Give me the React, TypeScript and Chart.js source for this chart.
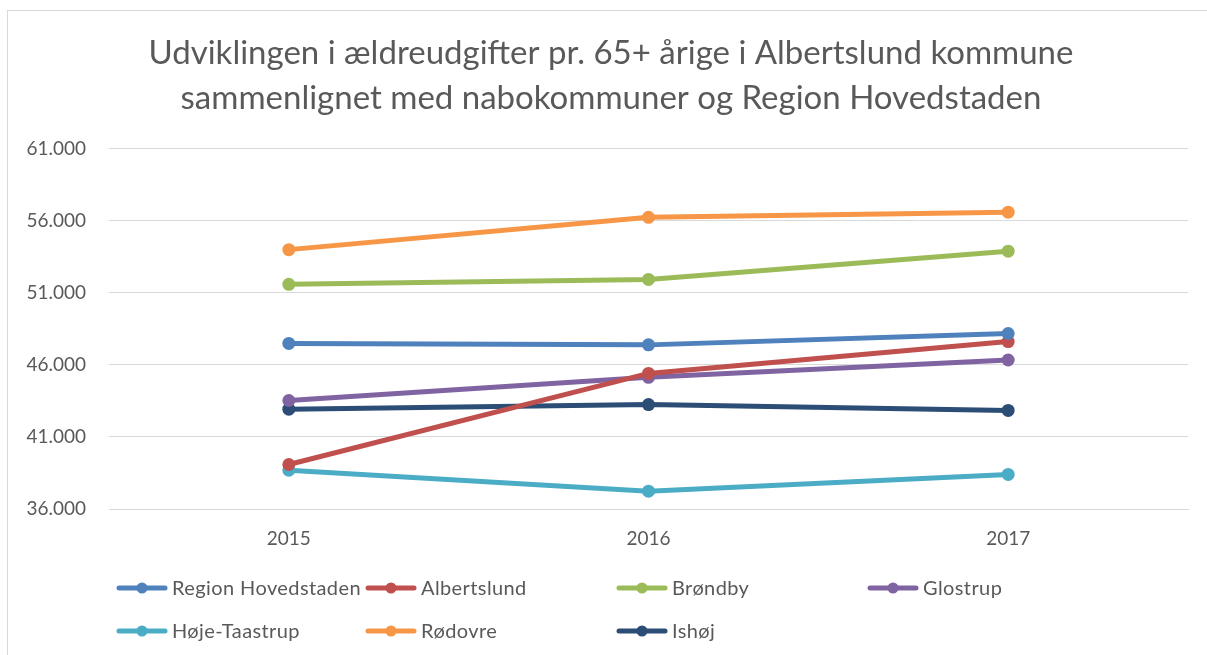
import React, { useEffect, useRef } from "react";
import { Chart, registerables } from "chart.js";

Chart.register(...registerables);

const titleLines = [
  "Udviklingen i ældreudgifter pr. 65+ årige i Albertslund kommune",
  "sammenlignet med nabokommuner og Region Hovedstaden",
];
const years = ["2015", "2016", "2017"];
const yTicks = [36000, 41000, 46000, 51000, 56000, 61000];

const seriesNames = ["Region Hovedstaden", "Albertslund", "Brøndby", "Glostrup", "Høje-Taastrup", "Rødovre", "Ishøj"];
const seriesColors = ["#4f81bd", "#c0504d", "#9bbb59", "#8064a2", "#4bacc6", "#f79646", "#2c4d75"];

const regionHovedstaden = [47490, 47390, 48180];
const albertslund = [39090, 45410, 47620];
const broendby = [51590, 51930, 53890];
const glostrup = [43530, 45140, 46340];
const hoejeTaastrup = [38690, 37240, 38400];
const roedovre = [54000, 56240, 56600];
const ishoej = [42930, 43250, 42840];

const seriesValues = [regionHovedstaden, albertslund, broendby, glostrup, hoejeTaastrup, roedovre, ishoej];

const FONT = "Lato, 'Open Sans', sans-serif";
const TEXT = "#595959";
const GRID = "#d9d9d9";

const titleShiftPlugin = {
  id: "titleShift",
  afterLayout(chart: any) {
    if (chart.titleBlock) {
      chart.titleBlock.left = 34;
    }
  },
};

const legendPlugin = {
  id: "gridLegend",
  afterDraw(chart: any) {
    const ctx = chart.ctx;
    const cols = [117, 366, 617, 868];
    const rows = [588, 631];
    ctx.save();
    chart.data.datasets.forEach((ds: any, i: number) => {
      const c = i < 4 ? i : i - 4;
      const r = i < 4 ? 0 : 1;
      const x = cols[c];
      const y = rows[r];
      ctx.strokeStyle = ds.borderColor;
      ctx.lineWidth = 5;
      ctx.lineCap = "round";
      ctx.beginPath();
      ctx.moveTo(x + 2, y);
      ctx.lineTo(x + 48, y);
      ctx.stroke();
      ctx.fillStyle = ds.borderColor;
      ctx.beginPath();
      ctx.arc(x + 25, y, 5.5, 0, Math.PI * 2);
      ctx.fill();
      ctx.fillStyle = TEXT;
      ctx.font = `20px ${FONT}`;
      (ctx as any).letterSpacing = "0.4px";
      ctx.textAlign = "left";
      ctx.textBaseline = "middle";
      ctx.fillText(ds.label, x + 55, y + 1);
    });
    ctx.restore();
  },
};

export default function App() {
  const ref = useRef<HTMLCanvasElement | null>(null);
  useEffect(() => {
    if (!ref.current) return;
    const chart = new Chart(ref.current, {
      type: "line",
      data: {
        labels: years,
        datasets: seriesNames.map((name, i) => ({
          label: name,
          data: seriesValues[i],
          borderColor: seriesColors[i],
          backgroundColor: seriesColors[i],
          borderWidth: 5,
          pointRadius: 6.5,
          pointHoverRadius: 6.5,
          pointBorderWidth: 0,
          tension: 0,
        })),
      },
      options: {
        animation: false,
        responsive: false,
        maintainAspectRatio: false,
        layout: { padding: { top: 10, right: 19, left: 0, bottom: 0 } },
        plugins: {
          legend: { display: false },
          tooltip: { enabled: false },
          title: {
            display: true,
            text: titleLines,
            color: TEXT,
            font: { family: FONT, size: 33, weight: "normal", lineHeight: 1.36 },
            padding: { top: 21, bottom: 28 },
          },
        },
        scales: {
          x: {
            offset: true,
            grid: { display: false, drawTicks: false },
            border: { display: true, color: GRID, width: 1 },
            ticks: { color: TEXT, font: { family: FONT, size: 19 }, padding: 18 },
            afterFit: (s: any) => {
              s.height = 146;
            },
          },
          y: {
            min: 36000,
            max: 61000,
            afterBuildTicks: (s: any) => {
              s.ticks = yTicks.map((v) => ({ value: v }));
            },
            grid: { color: GRID, lineWidth: 1, drawTicks: false },
            border: { display: false },
            ticks: {
              color: TEXT,
              font: { family: FONT, size: 19 },
              padding: 23,
              callback: (v: any) => Number(v).toLocaleString("da-DK", { minimumFractionDigits: 0 }).replace(/,/g, "."),
            },
            afterFit: (s: any) => {
              s.width = 109;
            },
          },
        },
      },
      plugins: [titleShiftPlugin, legendPlugin],
    });
    return () => chart.destroy();
  }, []);
  return (
    <div style={{ position: "fixed", left: 0, top: 0, width: 1207, height: 655, overflow: "hidden", background: "#fff" }}>
      <div
        style={{
          position: "absolute",
          left: 7,
          top: 10,
          width: 1300,
          height: 800,
          border: `1px solid ${GRID}`,
          boxSizing: "border-box",
        }}
      />
      <canvas ref={ref} width={1207} height={655} style={{ position: "absolute", left: 0, top: 0, width: 1207, height: 655 }} />
    </div>
  );
}
